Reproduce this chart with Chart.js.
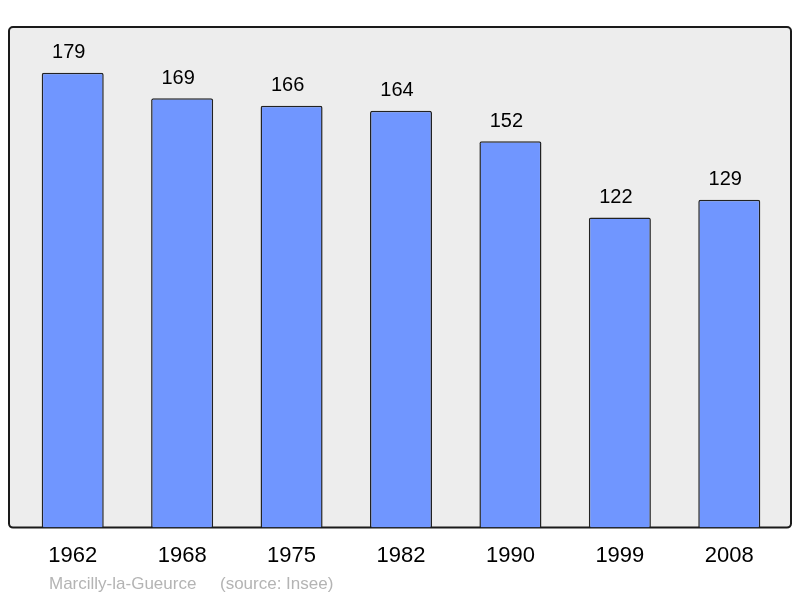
<!DOCTYPE html>
<html>
<head>
<meta charset="utf-8">
<script src="https://cdn.jsdelivr.net/npm/chart.js@4/dist/chart.umd.min.js"></script>
<style>
  html, body { margin: 0; padding: 0; background: #fff; }
  #wrap { width: 800px; height: 598px; }
</style>
</head>
<body>
<div id="wrap"><canvas id="chart" width="800" height="598"></canvas></div>
<script>
const years = ["1962", "1968", "1975", "1982", "1990", "1999", "2008"];
const population = [179, 169, 166, 164, 152, 122, 129];
const footer = "Marcilly-la-Gueurce     (source: Insee)";

const FONT = "'Liberation Sans', Arial, sans-serif";

const frame = {
  id: "frame",
  beforeDraw(c) {
    const a = c.chartArea, ctx = c.ctx;
    const x = a.left - 9, y = a.top, w = a.right + 7 - x, h = a.bottom - a.top;
    ctx.save();
    ctx.beginPath();
    ctx.roundRect(x, y, w, h, 4);
    ctx.fillStyle = "#ededed";
    ctx.fill();
    ctx.lineWidth = 2;
    ctx.strokeStyle = "#1a1a1a";
    ctx.stroke();
    ctx.restore();
  },
  afterDraw(c) {
    const ctx = c.ctx;
    ctx.save();
    ctx.font = "17px " + FONT;
    ctx.fillStyle = "#b4b4b4";
    ctx.textBaseline = "middle";
    ctx.fillText(footer, 49, 584);
    ctx.restore();
  },
};

const valueLabels = {
  id: "valueLabels",
  afterDatasetsDraw(c) {
    const ctx = c.ctx;
    const meta = c.getDatasetMeta(0);
    ctx.save();
    ctx.font = "20px " + FONT;
    ctx.fillStyle = "#000";
    ctx.textAlign = "center";
    ctx.textBaseline = "middle";
    meta.data.forEach((bar, i) => {
      ctx.fillText(String(population[i]), bar.x - 4, bar.y - 20);
    });
    ctx.restore();
  },
};

new Chart(document.getElementById("chart"), {
  type: "bar",
  data: {
    labels: years,
    datasets: [{
      data: population,
      backgroundColor: "#7096ff",
      borderColor: "#222",
      borderWidth: 1.5,
      borderSkipped: "bottom",
      borderRadius: 2,
      barPercentage: 0.567,
      categoryPercentage: 1,
    }],
  },
  options: {
    responsive: false,
    animation: false,
    layout: { padding: { left: 18, right: 16, top: 27, bottom: 14 } },
    plugins: { legend: { display: false }, tooltip: { enabled: false } },
    scales: {
      x: {
        grid: { display: false, drawTicks: false },
        border: { display: false },
        ticks: { color: "#000", font: { size: 22, family: FONT }, padding: 15 },
      },
      y: { display: false, min: 0, max: 197 },
    },
  },
  plugins: [frame, valueLabels],
});
</script>
</body>
</html>
